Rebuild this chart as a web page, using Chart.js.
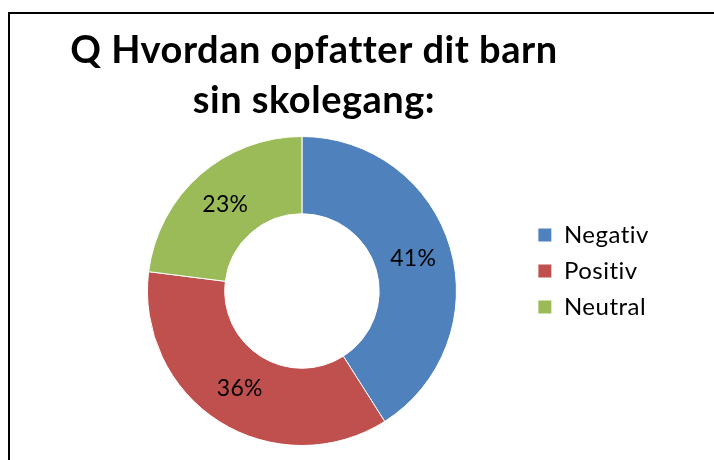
<!DOCTYPE html>
<html>
<head>
<meta charset="utf-8">
<script src="https://cdn.jsdelivr.net/npm/chart.js@4.4.0/dist/chart.umd.min.js"></script>
<style>
    body { margin: 0; background: #fff; }
    #frame {
        position: absolute;
        left: 8px;
        top: 12px;
        width: 706px;
        height: 448px;
        box-sizing: border-box;
        border-top: 2px solid #000;
        border-left: 2px solid #000;
    }
</style>
</head>
<body>
<div id="frame">
    <canvas id="grafica" width="704" height="446"></canvas>
</div>
<script>
const titleLines = ['Q Hvordan opfatter dit barn', 'sin skolegang:'];
const categories = ['Negativ', 'Positiv', 'Neutral'];
const percentages = [41, 36, 23];
const colors = ['#4F81BD', '#C0504D', '#9BBB59'];

// lidt bogstavafstand, så Lato ikke laver "ti"/"tt" ligaturer
const spacing = {
    id: 'spacing',
    beforeLayout(chart) { chart.ctx.letterSpacing = '0.5px'; },
    beforeDraw(chart) { chart.ctx.letterSpacing = '0.5px'; },
    // titlen må gerne være bredere end selve diagramområdet (ellers bliver den klemt)
    afterLayout(chart) {
        const t = chart.titleBlock;
        t.left -= 38;
        t.right += 62;
        t.width = t.right - t.left;
    }
};

// skriver procent-tallet midt i hvert stykke
const sliceLabels = {
    id: 'sliceLabels',
    afterDatasetsDraw(chart) {
        const ctx = chart.ctx;
        const meta = chart.getDatasetMeta(0);
        ctx.save();
        ctx.letterSpacing = '0.3px';
        ctx.font = '23px Lato';
        ctx.fillStyle = '#000';
        ctx.textAlign = 'center';
        ctx.textBaseline = 'middle';
        meta.data.forEach((arc, i) => {
            const p = arc.getCenterPoint();
            ctx.fillText(percentages[i] + '%', p.x, p.y);
        });
        ctx.restore();
    }
};

const chart = new Chart(document.getElementById('grafica'), {
    type: 'doughnut',
    data: {
        labels: categories,
        datasets: [{
            data: percentages,
            backgroundColor: colors,
            borderColor: '#fff',
            borderWidth: 1
        }]
    },
    options: {
        responsive: false,
        animation: false,
        cutout: '50%',
        layout: { padding: { left: 68, right: 55, top: 0, bottom: 14 } },
        plugins: {
            title: {
                display: true,
                text: titleLines,
                fullSize: false,
                color: '#000',
                font: { family: 'Lato', size: 38, weight: 'bold', lineHeight: '50px' },
                padding: { top: 12, bottom: 10 }
            },
            legend: {
                position: 'right',
                align: 'start',
                fullSize: false,
                title: { display: true, text: '', font: { size: 12, lineHeight: 1 }, padding: { top: 63, bottom: 0 } },
                labels: {
                    color: '#000',
                    font: { family: 'Lato', size: 24 },
                    boxWidth: 14,
                    boxHeight: 14,
                    padding: 12
                }
            },
            tooltip: { enabled: false }
        }
    },
    plugins: [spacing, sliceLabels]
});
</script>
</body>
</html>
